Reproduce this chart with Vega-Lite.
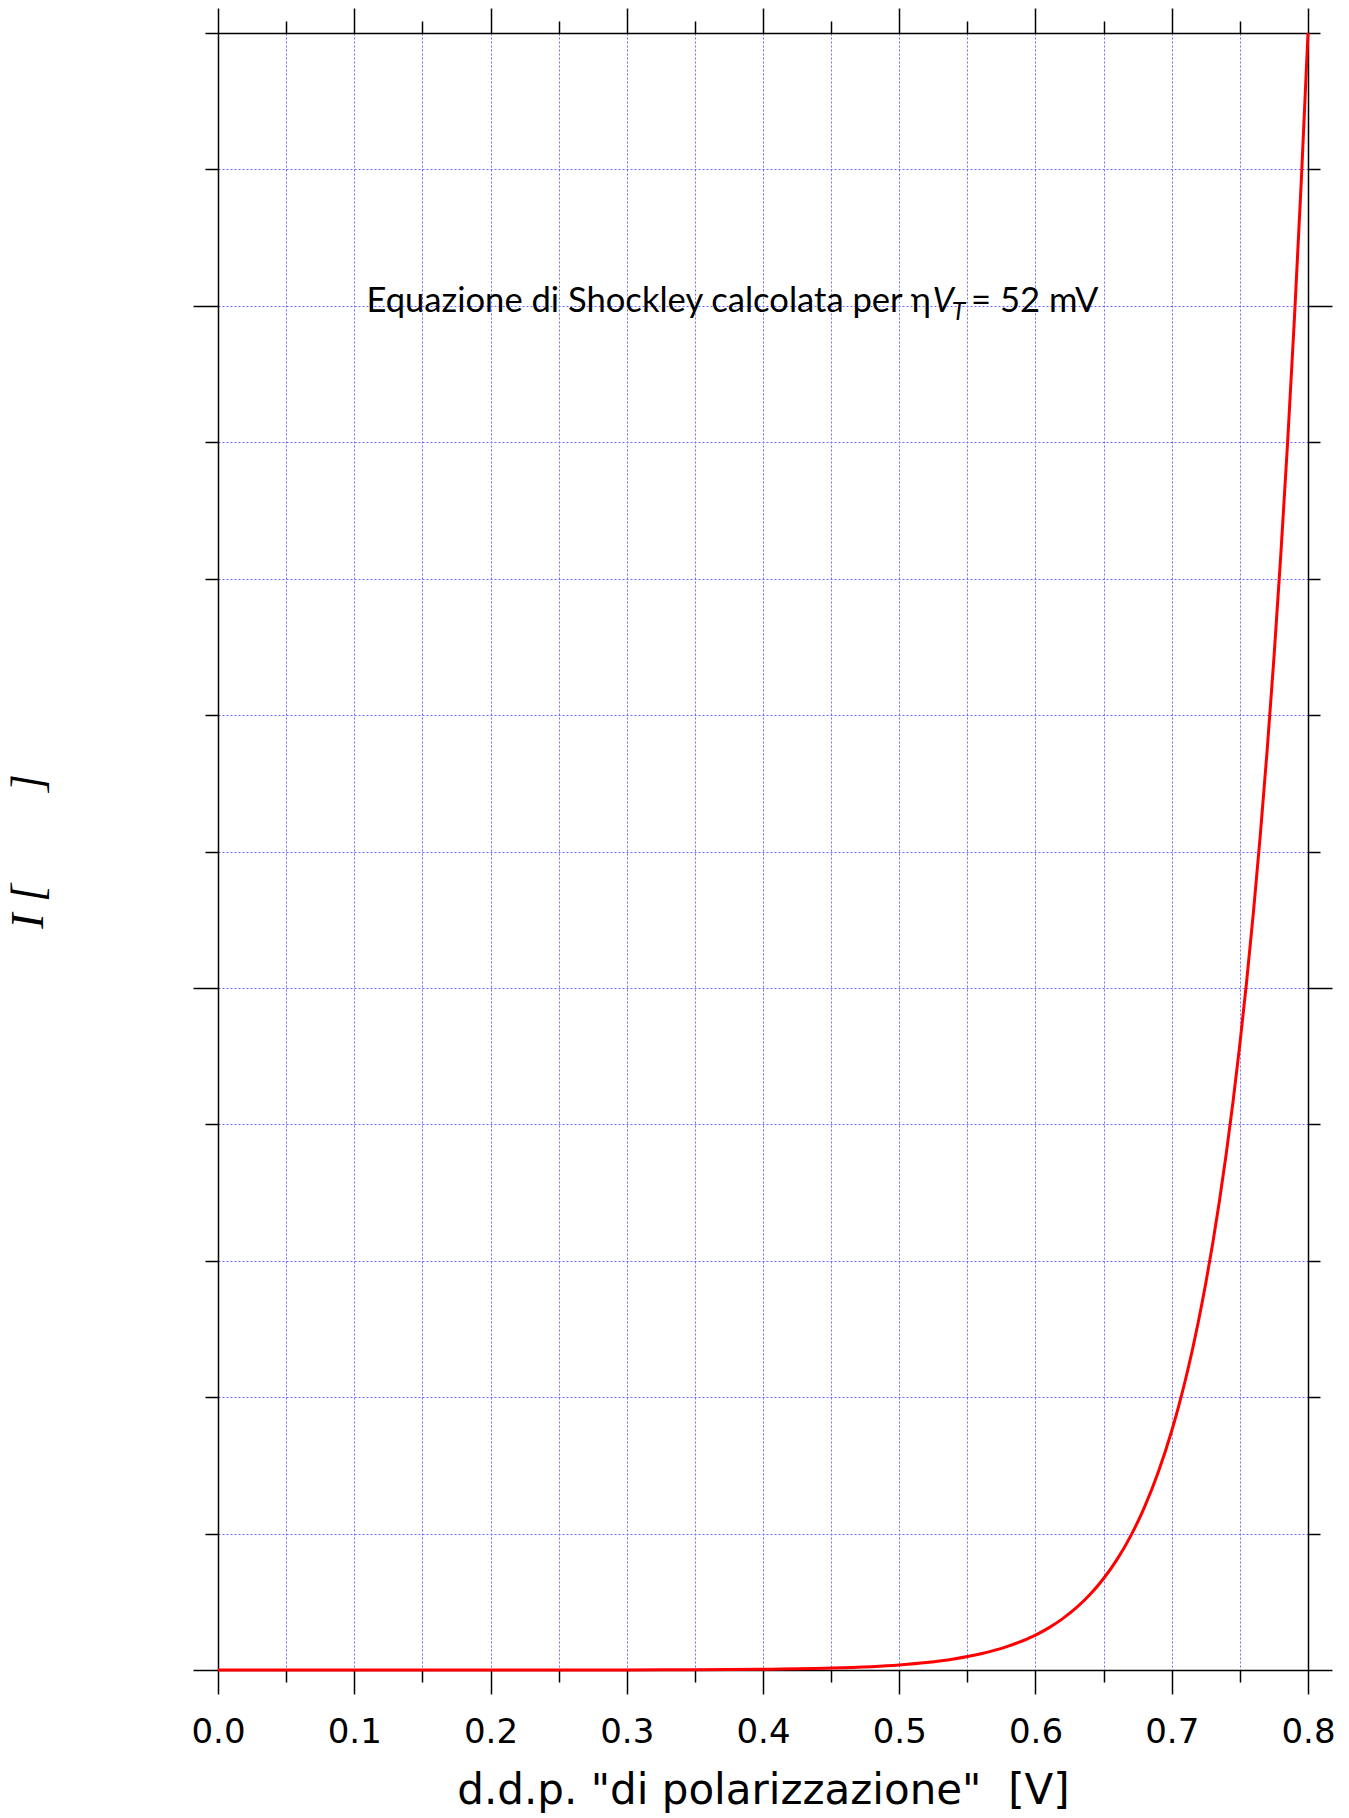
{
  "$schema": "https://vega.github.io/schema/vega-lite/v6.json",
  "width": 1090,
  "height": 1637,
  "autosize": {"type": "none"},
  "padding": {"left": 218, "top": 33, "right": 41, "bottom": 148},
  "background": "white",
  "config": {"view": {"stroke": null}},
  "datasets": {
    "curve": [
      {"V": 0.0, "I": 0.0},
      {"V": 0.1, "I": 0.00002},
      {"V": 0.2, "I": 0.00012},
      {"V": 0.25, "I": 0.0003},
      {"V": 0.3, "I": 0.0008},
      {"V": 0.35, "I": 0.0021},
      {"V": 0.4, "I": 0.0055},
      {"V": 0.45, "I": 0.0143},
      {"V": 0.5, "I": 0.0375},
      {"V": 0.52, "I": 0.055},
      {"V": 0.54, "I": 0.0809},
      {"V": 0.56, "I": 0.1188},
      {"V": 0.58, "I": 0.1745},
      {"V": 0.6, "I": 0.2563},
      {"V": 0.61, "I": 0.3107},
      {"V": 0.62, "I": 0.3766},
      {"V": 0.63, "I": 0.4564},
      {"V": 0.64, "I": 0.5532},
      {"V": 0.65, "I": 0.6705},
      {"V": 0.66, "I": 0.8127},
      {"V": 0.67, "I": 0.985},
      {"V": 0.68, "I": 1.1939},
      {"V": 0.69, "I": 1.4471},
      {"V": 0.7, "I": 1.7539},
      {"V": 0.705, "I": 1.9309},
      {"V": 0.71, "I": 2.1258},
      {"V": 0.715, "I": 2.3404},
      {"V": 0.72, "I": 2.5766},
      {"V": 0.725, "I": 2.8366},
      {"V": 0.73, "I": 3.1229},
      {"V": 0.735, "I": 3.4381},
      {"V": 0.74, "I": 3.7851},
      {"V": 0.745, "I": 4.1671},
      {"V": 0.75, "I": 4.5877},
      {"V": 0.755, "I": 5.0507},
      {"V": 0.76, "I": 5.5605},
      {"V": 0.765, "I": 6.1216},
      {"V": 0.77, "I": 6.7396},
      {"V": 0.775, "I": 7.4196},
      {"V": 0.78, "I": 8.1687},
      {"V": 0.785, "I": 8.9929},
      {"V": 0.79, "I": 9.9006},
      {"V": 0.795, "I": 10.9},
      {"V": 0.8, "I": 12.0}
    ]
  },
  "resolve": {"axis": {"x": "independent", "y": "independent"}},
  "layer": [
    {
      "data": {"name": "curve"},
      "mark": {"type": "line", "strokeOpacity": 0},
      "encoding": {
        "x": {
          "field": "V", "type": "quantitative",
          "scale": {"domain": [0, 0.8], "nice": false, "zero": false},
          "axis": {
            "orient": "top",
            "values": [0, 0.05, 0.1, 0.15, 0.2, 0.25, 0.3, 0.35, 0.4, 0.45, 0.5, 0.55, 0.6, 0.65, 0.7, 0.75, 0.8],
            "labels": false, "grid": false, "title": null,
            "tickSize": {"condition": {"test": "abs(datum.value*10 - round(datum.value*10)) < 0.001", "value": 25}, "value": 12},
            "tickColor": "black", "tickWidth": 1.5, "domainColor": "black", "domainWidth": 1.5
          }
        },
        "y": {
          "field": "I", "type": "quantitative",
          "scale": {"domain": [0, 12], "nice": false},
          "axis": {
            "orient": "right",
            "values": [0, 1, 2, 3, 4, 5, 6, 7, 8, 9, 10, 11, 12],
            "labels": false, "grid": false, "title": null,
            "tickSize": {"condition": {"test": "datum.value % 5 == 0", "value": 24}, "value": 12},
            "tickColor": "black", "tickWidth": 1.5, "domainColor": "black", "domainWidth": 1.5
          }
        }
      }
    },
    {
      "data": {"name": "curve"},
      "mark": {"type": "line", "color": "#ff0000", "strokeWidth": 3, "interpolate": "monotone"},
      "encoding": {
        "x": {
          "field": "V", "type": "quantitative",
          "scale": {"domain": [0, 0.8], "nice": false, "zero": false},
          "axis": {
            "orient": "bottom",
            "values": [0, 0.05, 0.1, 0.15, 0.2, 0.25, 0.3, 0.35, 0.4, 0.45, 0.5, 0.55, 0.6, 0.65, 0.7, 0.75, 0.8],
            "labelExpr": "abs(datum.value*10 - round(datum.value*10)) < 0.001 ? format(datum.value, '.1f') : ''",
            "tickSize": {"condition": {"test": "abs(datum.value*10 - round(datum.value*10)) < 0.001", "value": 24}, "value": 12},
            "tickColor": "black", "tickWidth": 1.5, "domainColor": "black", "domainWidth": 1.5,
            "grid": true, "gridColor": "#6a6aff", "gridDash": [2, 2], "gridWidth": 1,
            "labelFont": "DejaVu Sans", "labelFontSize": 34, "labelColor": "black", "labelPadding": 21,
            "labelFlush": false, "labelOverlap": false, "labelBound": false,
            "title": "d.d.p. \"di polarizzazione\"\u00a0\u00a0[V]",
            "titleFont": "DejaVu Sans", "titleFontSize": 42, "titleFontWeight": "normal", "titleColor": "black",
            "titleY": 133, "titleBaseline": "alphabetic", "titleAnchor": "middle"
          }
        },
        "y": {
          "field": "I", "type": "quantitative",
          "scale": {"domain": [0, 12], "nice": false},
          "axis": {
            "orient": "left",
            "values": [0, 1, 2, 3, 4, 5, 6, 7, 8, 9, 10, 11, 12],
            "labels": false,
            "tickSize": {"condition": {"test": "datum.value % 5 == 0", "value": 25}, "value": 13},
            "tickColor": "black", "tickWidth": 1.5, "domainColor": "black", "domainWidth": 1.5,
            "grid": true, "gridColor": "#6a6aff", "gridDash": [2, 2], "gridWidth": 1,
            "title": "I [\u00a0\u00a0\u00a0\u00a0\u00a0\u00a0\u00a0\u00a0]",
            "titleFont": "Liberation Serif", "titleFontStyle": "italic", "titleFontSize": 46, "titleFontWeight": "normal", "titleColor": "black",
            "titleX": -176, "titleY": 818, "titleAngle": -90, "titleAlign": "center", "titleBaseline": "alphabetic"
          }
        }
      }
    },
    {
      "data": {"values": [{"x": 0.5233, "y": 9.955, "t": "Equazione di Shockley calcolata per η"}]},
      "mark": {"type": "text", "font": "Lato", "fontSize": 34.6, "align": "right", "baseline": "alphabetic", "color": "black"},
      "encoding": {
        "x": {"field": "x", "type": "quantitative", "axis": null},
        "y": {"field": "y", "type": "quantitative", "axis": null},
        "text": {"field": "t"}
      }
    },
    {
      "data": {"values": [{"x": 0.5244, "y": 9.955, "t": "V"}]},
      "mark": {"type": "text", "font": "Lato", "fontSize": 34, "fontStyle": "italic", "align": "left", "baseline": "alphabetic", "color": "black"},
      "encoding": {
        "x": {"field": "x", "type": "quantitative", "axis": null},
        "y": {"field": "y", "type": "quantitative", "axis": null},
        "text": {"field": "t"}
      }
    },
    {
      "data": {"values": [{"x": 0.5386, "y": 9.896, "t": "T"}]},
      "mark": {"type": "text", "font": "Lato", "fontSize": 25, "fontStyle": "italic", "align": "left", "baseline": "alphabetic", "color": "black"},
      "encoding": {
        "x": {"field": "x", "type": "quantitative", "axis": null},
        "y": {"field": "y", "type": "quantitative", "axis": null},
        "text": {"field": "t"}
      }
    },
    {
      "data": {"values": [{"x": 0.5527, "y": 9.955, "t": "= 52 mV"}]},
      "mark": {"type": "text", "font": "Lato", "fontSize": 34.6, "align": "left", "baseline": "alphabetic", "color": "black"},
      "encoding": {
        "x": {"field": "x", "type": "quantitative", "axis": null},
        "y": {"field": "y", "type": "quantitative", "axis": null},
        "text": {"field": "t"}
      }
    }
  ]
}
